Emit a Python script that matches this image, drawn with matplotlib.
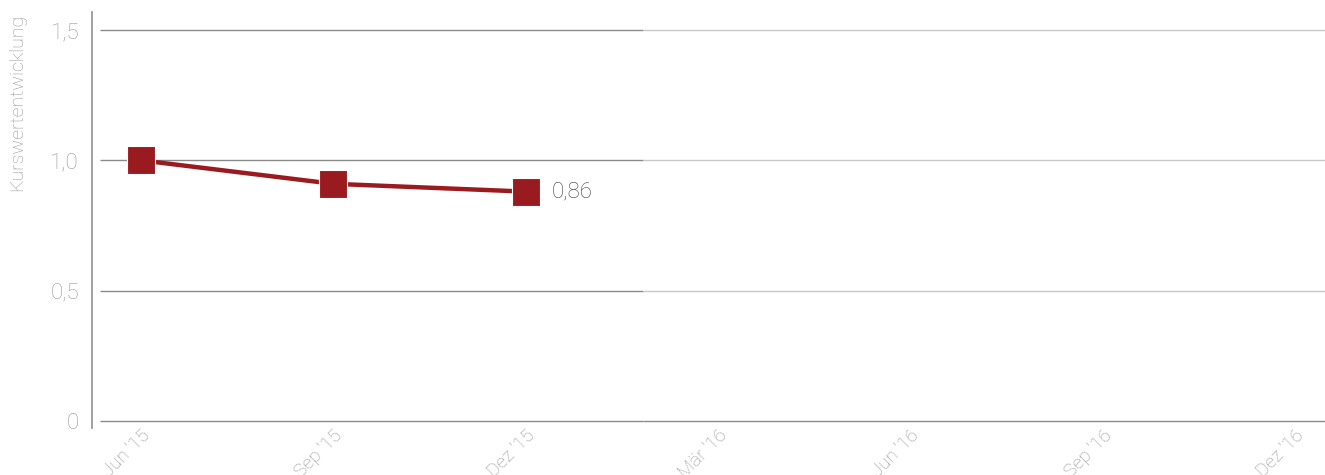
import matplotlib
matplotlib.use("Agg")
import matplotlib.pyplot as plt
from matplotlib.lines import Line2D

# data
quarters = ["Jun '15", "Sep '15", "Dez '15", "Mär '16", "Jun '16", "Sep '16", "Dez '16"]
kurs = [1.0, 0.91, 0.88]
last_label = "0,86"
y_ticks = [0, 0.5, 1.0, 1.5]
y_tick_labels = ["0", "0,5", "1,0", "1,5"]

plt.rcParams["font.family"] = ["Roboto", "DejaVu Sans"]

fig = plt.figure(figsize=(13.25, 4.75), dpi=100)
ax = fig.add_axes([100 / 1325, 1 - 421 / 475, 1 - 100 / 1325, (421 - 30) / 475])

x = list(range(len(quarters)))
ax.set_xlim(-0.213, 6.157)
ax.set_ylim(0, 1.5)

# grid lines: darker part on the left, lighter after
split = 2.61
for yv in y_ticks:
    ax.plot([-0.213, split], [yv, yv], color="#8a8a8a", lw=1, zorder=1,
            solid_capstyle="butt", clip_on=False)
    ax.plot([split, 6.157], [yv, yv], color="#8a8a8a" if yv == 0 else "#c8c8c8", lw=1, zorder=1,
            solid_capstyle="butt", clip_on=False)

ax.plot(x[:len(kurs)], kurs, color="#9a1b1f", lw=3.2, marker="s", markersize=20,
        markerfacecolor="#9a1b1f", markeredgecolor="white", markeredgewidth=0.8, zorder=3)
ax.annotate(last_label, (x[len(kurs) - 1], kurs[-1]), xytext=(19, 0), textcoords="offset points",
            va="center", ha="left", fontsize=16, color="#444444", fontweight="light")

for s in ax.spines.values():
    s.set_visible(False)
ax.tick_params(length=0)

ax.set_yticks(y_ticks)
ax.set_yticklabels(y_tick_labels, fontsize=16, color="#999999", fontweight="light")
ax.tick_params(axis="y", pad=15)

ax.set_xticks(x)
ax.set_xticklabels(quarters, rotation=45, ha="right", rotation_mode="anchor",
                   fontsize=13.5, color="#999999", fontweight="light")
ax.tick_params(axis="x", pad=4)

# left axis line, sticking out beyond the plot
fig.add_artist(Line2D([92 / 1325, 92 / 1325], [1 - 428 / 475, 1 - 12 / 475],
                      color="#9a9a9a", lw=1.3))

fig.text(17 / 1325, 1 - 14 / 475, "Kurswertentwicklung", rotation=90, ha="center", va="top",
         fontsize=14, color="#999999", fontweight="light")

fig.savefig("out.png", dpi=100)
